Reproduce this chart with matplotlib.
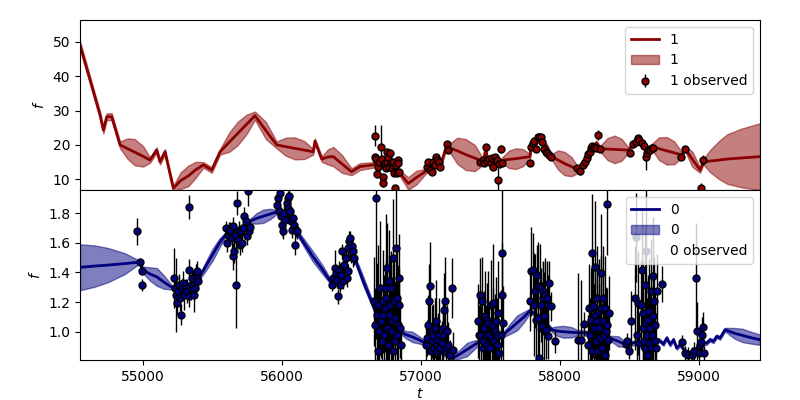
import matplotlib

matplotlib.use("Agg")

import matplotlib.pyplot as plt
from matplotlib.lines import Line2D
import numpy as np

# ---- band "1": GP fit (mean and 1-sigma half width) ----
fit1_t = [54547, 54619, 54691, 54715, 54739, 54775, 54835, 54890, 54940, 55000,
          55050, 55098, 55122, 55158, 55218, 55270, 55326, 55380, 55434, 55494,
          55554, 55620, 55680, 55745, 55805, 55883, 55961, 56025, 56092, 56160,
          56224, 56236, 56285, 56330, 56368, 56430, 56499, 56560, 56656, 56700,
          56750, 56800, 56848, 56907, 56965, 57028, 57087, 57150, 57184, 57195,
          57260, 57320, 57385, 57447, 57466, 57476, 57541, 57567, 57581, 57630,
          57680, 57730, 57782, 57790, 57850, 57902, 57938, 57985, 58030, 58080,
          58129, 58238, 58260, 58286, 58340, 58390, 58440, 58490, 58561, 58621,
          58658, 58710, 58765, 58820, 58873, 58897, 58950, 59005, 59029, 59077,
          59140, 59200, 59300, 59436]
fit1_mean = [49.0, 38.9, 28.7, 24.3, 28.2, 28.2, 20.0, 18.9, 17.9, 16.7,
             15.6, 18.5, 15.1, 18.0, 7.4, 9.6, 11.0, 12.8, 14.2, 12.7,
             18.0, 20.8, 23.3, 26.0, 28.5, 24.2, 20.0, 19.5, 19.0, 18.5,
             18.0, 21.1, 15.9, 16.5, 16.6, 14.5, 12.2, 13.7, 14.2, 15.0,
             14.5, 14.8, 11.7, 8.8, 10.5, 12.2, 14.5, 15.5, 20.0, 19.3,
             18.3, 17.2, 16.2, 15.1, 19.5, 15.4, 16.1, 14.2, 15.5, 15.8,
             16.0, 16.3, 16.6, 19.5, 22.2, 19.5, 16.6, 15.6, 14.6, 13.7,
             12.7, 19.5, 20.5, 18.9, 18.8, 18.7, 18.6, 18.5, 21.9, 18.5,
             19.5, 18.9, 18.3, 17.7, 17.1, 19.0, 15.8, 12.7, 15.1, 15.3,
             15.6, 15.9, 16.2, 16.6]
fit1_sigma = [1.2, 1.0, 1.0, 1.0, 1.0, 1.0, 1.0, 3.0, 3.8, 3.0,
              0.8, 0.8, 0.8, 0.8, 0.8, 2.4, 3.0, 2.3, 0.8, 0.8,
              0.8, 2.8, 3.4, 2.8, 1.2, 2.5, 1.0, 2.6, 3.2, 2.6,
              0.8, 0.8, 0.8, 2.2, 2.8, 2.6, 1.0, 1.0, 0.8, 0.8,
              0.8, 0.8, 0.8, 1.8, 2.0, 0.8, 0.8, 0.8, 0.8, 0.8,
              3.8, 4.5, 3.8, 0.8, 0.8, 0.8, 0.8, 0.8, 0.8, 2.5,
              3.0, 2.5, 0.8, 0.8, 0.8, 0.8, 0.8, 2.8, 3.4, 2.8,
              0.8, 0.8, 0.8, 0.8, 3.2, 4.0, 3.2, 0.8, 0.8, 0.8,
              0.8, 3.3, 4.0, 3.3, 0.8, 0.8, 2.2, 0.8, 0.8, 3.2,
              5.5, 7.2, 8.5, 9.7]

# ---- band "1": observations ----
obs1_t = [56668, 56668, 56673, 56685, 56692, 56699, 56709, 56716, 56723, 56728,
          56733, 56740, 56747, 56752, 56757, 56764, 56771, 56776, 56781, 56788,
          56795, 56800, 56807, 56812, 56819, 56824, 56831, 56836, 56843,
          57039, 57051, 57063, 57075, 57087, 57099, 57107, 57116, 57128, 57135,
          57188, 57195,
          57423, 57442, 57452, 57466, 57476, 57490, 57500, 57512, 57519, 57531,
          57543, 57550, 57562, 57574, 57581,
          57782, 57790, 57802, 57811, 57823, 57838, 57850, 57862, 57871, 57883,
          57895, 57907, 57922, 57933,
          58123, 58142, 58161, 58178, 58190, 58202, 58214, 58221, 58231, 58245,
          58257, 58269, 58286,
          58502, 58526, 58542, 58557, 58569, 58586, 58602, 58614, 58621, 58633,
          58645, 58657, 58664,
          58868, 58897, 59010, 59024]
obs1_f = [22.68, 16.38, 15.80, 11.54, 13.67, 15.12, 19.29, 15.80, 10.76, 8.83,
          14.15, 14.64, 13.19, 18.03, 15.12, 16.58, 13.67, 17.55, 14.64, 13.19,
          14.15, 15.12, 11.73, 7.37, 14.15, 11.73, 15.61, 14.64, 12.22,
          13.67, 15.12, 12.70, 12.22, 15.12, 14.15, 16.58, 15.61, 15.12, 13.67,
          20.26, 18.52,
          15.12, 15.61, 14.64, 19.48, 15.41, 15.80, 14.64, 16.09, 13.67, 16.58,
          15.61, 9.79, 14.35, 18.71, 14.64,
          14.83, 19.48, 20.45, 21.23, 18.71, 22.20, 22.39, 22.20, 20.94, 18.71,
          18.03, 17.55, 17.06, 16.38,
          13.19, 12.51, 14.15, 15.12, 16.09, 17.35, 18.03, 19.00, 19.68, 19.48,
          19.00, 22.87, 18.71,
          17.74, 20.26, 20.94, 21.91, 21.42, 20.45, 19.77, 16.58, 17.74, 18.52,
          18.52, 19.00, 19.19,
          16.38, 18.71, 7.57, 15.61]
obs1_err = [3.0, 1.0, 0.8, 0.8, 0.8, 0.8, 6.4, 0.8, 1.0, 1.0,
            0.8, 0.8, 0.8, 0.8, 0.8, 0.8, 0.8, 0.8, 0.8, 0.8,
            0.8, 0.8, 0.8, 0.8, 0.8, 0.8, 0.8, 0.8, 0.8,
            0.8, 0.8, 0.8, 0.8, 0.8, 0.8, 0.8, 0.8, 0.8, 0.8,
            0.8, 0.8,
            0.8, 0.8, 0.8, 0.8, 0.8, 0.8, 0.8, 0.8, 0.8, 0.8,
            0.8, 3.5, 0.8, 1.2, 0.8,
            0.8, 0.8, 0.8, 0.8, 0.8, 0.8, 0.8, 0.8, 0.8, 0.8,
            0.8, 0.8, 0.8, 0.8,
            0.8, 1.2, 0.8, 0.8, 0.8, 0.8, 0.8, 0.8, 0.8, 0.8,
            0.8, 1.5, 0.8,
            0.8, 0.8, 0.8, 0.8, 0.8, 0.8, 0.8, 4.0, 0.8, 0.8,
            0.8, 0.8, 0.8,
            0.8, 0.8, 1.5, 1.5]

# ---- band "0": GP fit ----
fit0_t = [54547, 54650, 54750, 54870, 54966, 54978, 54995, 55050, 55100, 55150,
          55206, 55250, 55300, 55350, 55398, 55450, 55500, 55550, 55594, 55650,
          55700, 55769, 55815, 55865, 55915, 55961, 56000, 56050, 56080, 56150,
          56220, 56290, 56357, 56400, 56450, 56489, 56520, 56580, 56640, 56669,
          56760, 56847, 56890, 56937, 56985, 57027, 57100, 57230, 57280, 57330,
          57380, 57423, 57500, 57590, 57640, 57690, 57740, 57783, 57860, 57938,
          57970, 58020, 58080, 58130, 58160, 58193, 58280, 58357, 58417, 58477,
          58550, 58620, 58670, 58706, 58742, 58766, 58790, 58814, 58837, 58861,
          58909, 58957, 59005, 59053, 59077, 59101, 59125, 59149, 59185, 59250,
          59310, 59370, 59436]
fit0_mean = [1.435, 1.443, 1.450, 1.460, 1.469, 1.471, 1.420, 1.390, 1.370, 1.335,
             1.300, 1.300, 1.310, 1.330, 1.358, 1.440, 1.520, 1.600, 1.655, 1.670,
             1.690, 1.746, 1.765, 1.780, 1.795, 1.809, 1.800, 1.780, 1.710, 1.610,
             1.510, 1.420, 1.327, 1.360, 1.450, 1.543, 1.500, 1.350, 1.210, 1.140,
             1.060, 1.003, 0.980, 0.965, 0.945, 0.924, 0.880, 0.822, 0.850, 0.880,
             0.910, 0.935, 0.960, 0.980, 1.020, 1.060, 1.100, 1.142, 1.090, 1.014,
             1.005, 1.000, 0.996, 0.993, 0.992, 0.991, 0.970, 0.957, 0.935, 0.912,
             0.930, 0.920, 0.924, 0.946, 0.917, 0.958, 0.913, 0.946, 0.890, 0.913,
             0.856, 0.868, 0.913, 0.924, 0.946, 0.935, 0.969, 0.958, 1.014, 0.990,
             0.975, 0.960, 0.946]
fit0_sigma = [0.155, 0.14, 0.115, 0.07, 0.015, 0.015, 0.02, 0.045, 0.06, 0.045,
              0.015, 0.015, 0.015, 0.015, 0.015, 0.03, 0.04, 0.03, 0.015, 0.015,
              0.015, 0.015, 0.035, 0.045, 0.035, 0.015, 0.015, 0.015, 0.015, 0.025,
              0.035, 0.03, 0.015, 0.015, 0.015, 0.015, 0.02, 0.03, 0.025, 0.015,
              0.015, 0.015, 0.025, 0.035, 0.025, 0.015, 0.015, 0.015, 0.03, 0.045,
              0.03, 0.015, 0.015, 0.015, 0.035, 0.05, 0.035, 0.015, 0.015, 0.015,
              0.03, 0.04, 0.035, 0.015, 0.02, 0.015, 0.015, 0.015, 0.035, 0.015,
              0.015, 0.015, 0.012, 0.012, 0.012, 0.012, 0.012, 0.012, 0.012, 0.012,
              0.012, 0.012, 0.012, 0.012, 0.012, 0.012, 0.012, 0.012, 0.012, 0.035,
              0.045, 0.04, 0.035]

# ---- band "0": observations ----
obs0_t = [54959, 54978, 54995, 54995,
          55225, 55230, 55237, 55242, 55249, 55259, 55266, 55273, 55283, 55290,
          55297, 55309, 55319, 55331, 55331, 55333, 55343, 55350, 55357, 55367,
          55374, 55379, 55386, 55391, 55398,
          55594, 55602, 55609, 55618, 55626, 55638, 55645, 55650, 55657, 55662,
          55669, 55674, 55681, 55690, 55698, 55705, 55714, 55722, 55729, 55738,
          55746, 55753, 55762, 55769,
          55966, 55973, 55980, 55985, 55992, 56002, 56009, 56016, 56024, 56033,
          56040, 56045, 56052, 56057, 56064, 56071, 56081, 56086, 56093, 56100,
          56110,
          56357, 56369, 56381, 56388, 56397, 56405, 56412, 56417, 56424, 56429,
          56436, 56441, 56448, 56457, 56465, 56472, 56477, 56481, 56489, 56493,
          56501, 56508, 56513, 56517,
          56661, 56668, 56676, 56680, 56688, 56692, 56699, 56704, 56711, 56716,
          56723, 56728, 56733, 56740, 56745, 56747, 56752, 56757, 56762, 56767,
          56771, 56776, 56781, 56786, 56791, 56795, 56800, 56805, 56810, 56815,
          56819, 56824, 56829, 56834, 56839, 56843, 56848, 56853,
          57035, 57045, 57052, 57059, 57064, 57069, 57076, 57083, 57088, 57095,
          57100, 57107, 57112, 57117, 57124, 57131, 57136, 57148, 57155, 57160,
          57167, 57172, 57179, 57184, 57196, 57208, 57220, 57227,
          57407, 57416, 57423, 57430, 57435, 57442, 57447, 57454, 57459, 57466,
          57471, 57476, 57483, 57490, 57495, 57502, 57507, 57514, 57519, 57526,
          57531, 57538, 57543, 57548, 57555, 57562, 57572, 57579, 57584, 57586,
          57783, 57790, 57802, 57811, 57819, 57826, 57831, 57838, 57842, 57847,
          57854, 57862, 57866, 57874, 57878, 57886, 57890, 57898, 57902, 57910,
          57914, 57922, 57931, 57965, 58130, 58147, 58173,
          58202, 58209, 58214, 58221, 58226, 58231, 58238, 58243, 58248, 58250,
          58255, 58262, 58267, 58272, 58276, 58281, 58286, 58291, 58296, 58300,
          58305, 58310, 58315, 58319, 58324, 58329, 58334, 58339, 58346, 58353,
          58471, 58478,
          58497, 58507, 58538, 58545, 58550, 58557, 58569, 58579, 58588, 58593,
          58598, 58603, 58607, 58610, 58615, 58617, 58622, 58627, 58631, 58636,
          58641, 58646, 58651, 58655, 58660, 58665, 58670, 58674, 58679, 58684,
          58689, 58698, 58730,
          58878, 58897, 58921, 58945, 58962, 58977, 58986, 59000, 59005, 59012,
          59022, 59029, 59034]
obs0_f = [1.678, 1.471, 1.413, 1.313,
          1.363, 1.295, 1.250, 1.194, 1.273, 1.318, 1.228, 1.115, 1.295, 1.329,
          1.250, 1.295, 1.273, 1.239, 1.842, 1.419, 1.295, 1.363, 1.318, 1.250,
          1.295, 1.397, 1.363, 1.408, 1.340,
          1.701, 1.599, 1.656, 1.678, 1.690, 1.633, 1.509, 1.712, 1.543, 1.656,
          1.318, 1.870, 1.622, 1.690, 1.588, 1.678, 1.599, 1.701, 1.780, 1.746,
          1.644, 1.948, 1.678, 1.705,
          1.858, 1.903, 1.813, 1.937, 1.780, 1.723, 1.678, 1.802, 1.757, 1.870,
          1.836, 1.903, 1.915, 1.813, 1.746, 1.690, 1.768, 1.723, 1.588, 1.690,
          1.678,
          1.318, 1.363, 1.431, 1.397, 1.352, 1.239, 1.419, 1.318, 1.386, 1.543,
          1.442, 1.340, 1.453, 1.498, 1.363, 1.408, 1.566, 1.611, 1.633, 1.521,
          1.577, 1.498, 1.543, 1.498,
          1.205, 1.048, 1.903, 1.115, 0.868, 1.183, 1.003, 1.295, 1.070, 0.935,
          1.205, 1.115, 0.980, 1.160, 1.228, 1.295, 1.025, 1.431, 0.913, 1.115,
          1.340, 1.183, 1.003, 1.295, 1.070, 0.868, 1.498, 1.205, 0.935, 1.093,
          1.566, 1.228, 0.980, 1.048, 1.183, 1.363, 1.025, 0.913,
          0.913, 0.958, 1.048, 1.205, 1.307, 0.868, 1.003, 0.935, 0.969, 0.890,
          1.025, 1.070, 0.913, 0.868, 0.946, 0.980, 0.890, 0.924, 1.025, 0.980,
          1.149, 1.205, 0.890, 1.003, 0.913, 0.845, 1.295, 0.879,
          1.070, 0.980, 1.250, 0.980, 1.205, 0.935, 0.890, 1.025, 1.109, 0.980,
          1.081, 0.913, 1.059, 0.980, 0.890, 1.183, 0.958, 1.048, 1.194, 0.935,
          1.003, 1.070, 0.913, 0.980, 1.127, 0.856, 0.980, 1.246, 1.530, 1.059,
          1.205, 1.408, 1.419, 1.183, 1.273, 1.081, 1.386, 1.307, 1.093, 0.822,
          1.295, 1.183, 1.036, 1.273, 1.228, 1.104, 1.250, 1.014, 1.228, 0.969,
          1.183, 1.329, 1.171, 0.935, 0.946, 0.946, 1.052,
          0.913, 1.160, 0.980, 1.081, 1.532, 0.868, 1.171, 1.025, 1.435, 1.115,
          0.935, 1.228, 1.070, 0.868, 1.138, 1.025, 0.958, 1.160, 1.397, 0.890,
          1.228, 1.070, 0.980, 1.160, 0.845, 1.003, 1.048, 1.865, 0.946, 1.127,
          0.917, 0.940,
          0.868, 1.075, 1.228, 1.638, 0.980, 1.194, 0.924, 1.183, 1.419, 1.025,
          1.127, 0.935, 1.318, 0.890, 1.543, 1.059, 0.980, 0.845, 1.081, 0.924,
          1.138, 1.025, 0.890, 1.273, 0.980, 1.104, 1.374, 1.205, 0.935, 1.048,
          0.890, 1.273, 1.322,
          0.931, 0.856, 0.845, 0.845, 0.868, 1.363, 1.003, 0.856, 0.913, 0.931,
          0.980, 1.030, 0.856]
obs0_err = [0.09, 0.03, 0.03, 0.04,
            0.20, 0.07, 0.25, 0.08, 0.06, 0.07, 0.09, 0.07, 0.06, 0.08,
            0.10, 0.06, 0.08, 0.07, 0.08, 0.07, 0.08, 0.06, 0.09, 0.12,
            0.07, 0.06, 0.08, 0.07, 0.06,
            0.05, 0.06, 0.05, 0.06, 0.05, 0.07, 0.09, 0.06, 0.08, 0.06,
            0.29, 0.08, 0.05, 0.06, 0.07, 0.05, 0.06, 0.05, 0.06, 0.05,
            0.06, 0.10, 0.05, 0.05,
            0.05, 0.06, 0.05, 0.07, 0.06, 0.08, 0.05, 0.06, 0.07, 0.05,
            0.06, 0.05, 0.06, 0.07, 0.05, 0.06, 0.05, 0.06, 0.07, 0.05,
            0.05,
            0.04, 0.05, 0.12, 0.05, 0.06, 0.05, 0.06, 0.05, 0.06, 0.05,
            0.10, 0.05, 0.06, 0.05, 0.06, 0.05, 0.06, 0.07, 0.05, 0.06,
            0.05, 0.06, 0.05, 0.05,
            0.30, 0.25, 0.95, 0.35, 0.20, 0.40, 0.30, 0.45, 0.25, 0.30,
            0.35, 0.20, 0.40, 0.30, 0.25, 0.50, 0.35, 0.30, 0.25, 0.40,
            0.35, 0.30, 0.45, 0.25, 0.30, 0.20, 0.40, 0.30, 0.35, 0.25,
            0.60, 0.35, 0.30, 0.40, 0.25, 0.30, 0.20, 0.15,
            0.15, 0.12, 0.20, 0.25, 0.30, 0.10, 0.18, 0.15, 0.22, 0.12,
            0.20, 0.28, 0.15, 0.12, 0.18, 0.25, 0.10, 0.15, 0.20, 0.22,
            0.25, 0.30, 0.12, 0.18, 0.15, 0.10, 0.20, 0.12,
            0.25, 0.20, 0.25, 0.20, 0.30, 0.15, 0.20, 0.25, 0.30, 0.20,
            0.25, 0.15, 0.35, 0.20, 0.15, 0.30, 0.20, 0.25, 0.40, 0.15,
            0.25, 0.30, 0.15, 0.25, 0.35, 0.15, 0.30, 0.35, 0.45, 0.25,
            0.20, 0.30, 0.25, 0.35, 0.25, 0.30, 0.20, 0.30, 0.25, 0.20,
            0.30, 0.25, 0.30, 0.20, 0.25, 0.30, 0.25, 0.20, 0.25, 0.15,
            0.20, 0.15, 0.10, 0.08, 0.45, 0.40, 0.08,
            0.20, 0.30, 0.25, 0.35, 0.40, 0.20, 0.35, 0.30, 0.45, 0.30,
            0.25, 0.35, 0.30, 0.20, 0.35, 0.30, 0.25, 0.35, 0.40, 0.20,
            0.35, 0.30, 0.25, 0.35, 0.15, 0.30, 0.25, 0.35, 0.20, 0.25,
            0.05, 0.05,
            0.05, 0.20, 0.35, 0.30, 0.25, 0.35, 0.20, 0.30, 0.40, 0.25,
            0.35, 0.20, 0.40, 0.15, 0.45, 0.30, 0.25, 0.15, 0.30, 0.20,
            0.35, 0.25, 0.15, 0.35, 0.25, 0.30, 0.40, 0.30, 0.20, 0.25,
            0.15, 0.25, 0.12,
            0.05, 0.05, 0.05, 0.05, 0.06, 0.37, 0.20, 0.05, 0.06, 0.08,
            0.12, 0.10, 0.05]


def draw_band(ax, name, color, fit_t, fit_mean, fit_sigma,
              obs_t, obs_f, obs_err, obs_handle=True):
    t = np.array(fit_t)
    mu = np.array(fit_mean)
    sd = np.array(fit_sigma)
    line, = ax.plot(t, mu, color=color, lw=2, label=name)
    band = ax.fill_between(t, mu - sd, mu + sd, color=color, alpha=0.5,
                           label=name)
    obs = ax.errorbar(obs_t, obs_f, yerr=obs_err, fmt="o", ms=5,
                      mfc=color, mec="k", mew=1, ecolor="k", elinewidth=1,
                      label=f"{name} observed")
    if obs_handle:
        handles = [line, band, obs]
    else:
        handles = [line, band, Line2D([], [], ls="none")]
    ax.legend(handles, [name, name, f"{name} observed"], loc="upper right")
    ax.set_ylabel("$f$")


fig, (ax1, ax0) = plt.subplots(2, 1, sharex=True, figsize=(8, 4), dpi=100)
fig.subplots_adjust(left=0.1, right=0.95, top=0.95, bottom=0.1, hspace=0)

draw_band(ax1, "1", "darkred", fit1_t, fit1_mean, fit1_sigma,
          obs1_t, obs1_f, obs1_err)
draw_band(ax0, "0", "navy", fit0_t, fit0_mean, fit0_sigma,
          obs0_t, obs0_f, obs0_err, obs_handle=False)

ax0.set_xlim(54547, 59436)
ax1.set_ylim(6.9, 56.3)
ax0.set_ylim(0.809, 1.957)
ax1.set_yticks([10, 20, 30, 40, 50])
ax0.set_yticks([1.0, 1.2, 1.4, 1.6, 1.8])
ax0.set_xticks([55000, 56000, 57000, 58000, 59000])
ax0.set_xlabel("$t$", labelpad=2)

fig.savefig("out.png", dpi=100)
